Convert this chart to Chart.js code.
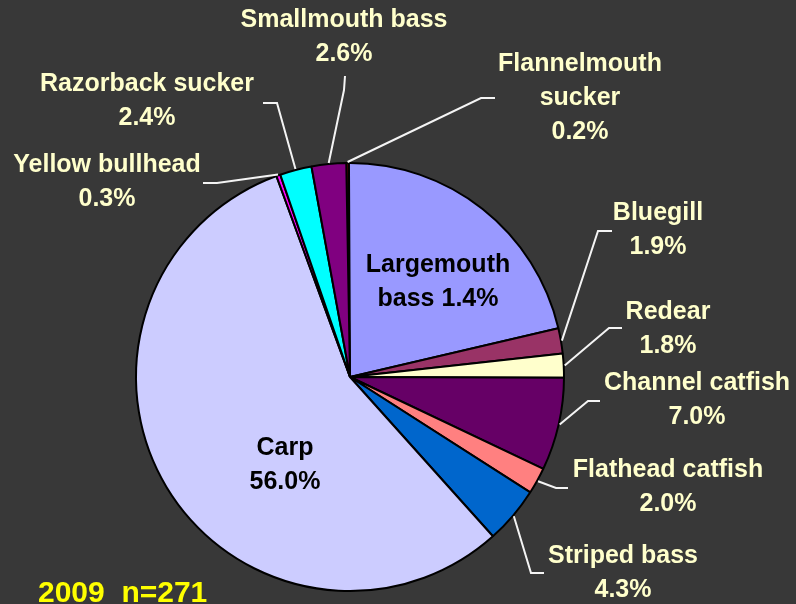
<!DOCTYPE html>
<html>
<head>
<meta charset="utf-8">
<script src="https://cdn.jsdelivr.net/npm/chart.js@4.4.0/dist/chart.umd.min.js"></script>
<style>
  html, body { margin: 0; padding: 0; background: #383838; }
  #wrap { width: 796px; height: 604px; }
</style>
</head>
<body>
<div id="wrap"><canvas id="fishPie" width="796" height="604"></canvas></div>
<script>
// slices clockwise from 12 o'clock
const species = ['Flannelmouth sucker', 'Largemouth bass', 'Bluegill', 'Redear', 'Channel catfish',
  'Flathead catfish', 'Striped bass', 'Carp', 'Yellow bullhead', 'Razorback sucker', 'Smallmouth bass'];
const percents = [0.2, 21.4, 1.9, 1.8, 7.0, 2.0, 4.3, 56.0, 0.3, 2.4, 2.6];
// text exactly as printed on the slide
const nameLines = [['Flannelmouth', 'sucker'], ['Largemouth'], ['Bluegill'], ['Redear'], ['Channel catfish'],
  ['Flathead catfish'], ['Striped bass'], ['Carp'], ['Yellow bullhead'], ['Razorback sucker'], ['Smallmouth bass']];
const pctText = ['0.2%', 'bass 1.4%', '1.9%', '1.8%', '7.0%', '2.0%', '4.3%', '56.0%', '0.3%', '2.4%', '2.6%'];
const sliceColors = ['#800000', '#9999FF', '#993366', '#FFFFCC', '#660066', '#FF8080', '#0066CC',
  '#CCCCFF', '#FF00FF', '#00FFFF', '#800080'];
const footnote = '2009  n=271';

// label placement: text centre x, first line y, leader elbow, leader end (null = inside slice)
const labelPos = [
  { x: 580, y: 64, elbow: [481, 98], end: [495, 98] },
  { x: 438, y: 265, inside: true },
  { x: 658, y: 213, elbow: [598, 231], end: [612, 231] },
  { x: 668, y: 312, elbow: [609, 328], end: [622, 328] },
  { x: 697, y: 383, elbow: [588, 401], end: [600, 401] },
  { x: 668, y: 470, elbow: [556, 488], end: [568, 488] },
  { x: 623, y: 556, elbow: [531, 573], end: [544, 573] },
  { x: 285, y: 448, inside: true },
  { x: 107, y: 165, elbow: [217, 183], end: [203, 183] },
  { x: 147, y: 84, elbow: [277, 103], end: [263, 103] },
  { x: 344, y: 20, elbow: [344, 90], end: [345, 76] }
];
const lineGap = 34;

const labelPlugin = {
  id: 'fishLabels',
  afterDraw(chart) {
    const ctx = chart.ctx;
    const arcs = chart.getDatasetMeta(0).data;
    ctx.save();
    ctx.font = 'bold 25px "Liberation Sans", Arial, sans-serif';
    ctx.textAlign = 'center';
    ctx.textBaseline = 'middle';
    arcs.forEach((arc, i) => {
      const pos = labelPos[i];
      if (!pos.inside) {
        const mid = (arc.startAngle + arc.endAngle) / 2;
        const r = arc.outerRadius + 1;
        ctx.strokeStyle = '#F4F4F4';
        ctx.lineWidth = 2;
        ctx.beginPath();
        ctx.moveTo(arc.x + Math.cos(mid) * r, arc.y + Math.sin(mid) * r);
        ctx.lineTo(pos.elbow[0], pos.elbow[1]);
        ctx.lineTo(pos.end[0], pos.end[1]);
        ctx.stroke();
      }
      ctx.fillStyle = pos.inside ? '#000000' : '#FFFFCC';
      const lines = nameLines[i].concat([pctText[i]]);
      lines.forEach((t, k) => ctx.fillText(t, pos.x, pos.y + k * lineGap));
    });
    ctx.fillStyle = '#FFFF00';
    ctx.font = 'bold 30px "Liberation Sans", Arial, sans-serif';
    ctx.textAlign = 'left';
    ctx.textBaseline = 'alphabetic';
    ctx.fillText(footnote, 38, 602);
    ctx.restore();
  }
};

new Chart(document.getElementById('fishPie'), {
  type: 'pie',
  data: {
    labels: species,
    datasets: [{
      data: percents,
      backgroundColor: sliceColors,
      borderColor: '#000000',
      borderWidth: 2
    }]
  },
  options: {
    responsive: false,
    animation: false,
    events: [],
    rotation: -1,
    radius: 214,
    layout: { padding: { left: 136, right: 232, top: 163, bottom: 13 } },
    plugins: {
      legend: { display: false },
      tooltip: { enabled: false }
    }
  },
  plugins: [labelPlugin]
});
</script>
</body>
</html>
